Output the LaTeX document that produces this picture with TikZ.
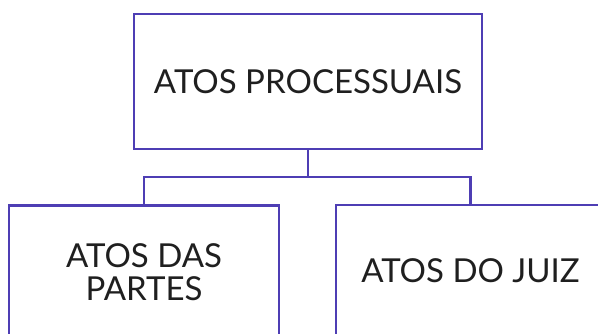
\documentclass[tikz,border=0pt]{standalone}
\usepackage{fontspec}
\setmainfont{Lato}
\begin{document}
\begin{tikzpicture}[x=1pt,y=-1pt,
  box/.style={draw=boxblue,line width=2.4pt,rectangle,inner sep=0pt,align=center,
    font=\fontsize{33}{33}\selectfont,text=black!88},
  link/.style={draw=boxblue,line width=2.4pt}]
\definecolor{boxblue}{RGB}{78,62,180}
\useasboundingbox (0,0) rectangle (598,334);
\node[box,minimum width=348pt,minimum height=135pt] (top) at (308,81.5) {ATOS PROCESSUAIS};
\node[box,minimum width=270pt,minimum height=133pt] (left) at (144,272) {ATOS DAS\\PARTES};
\node[box,minimum width=269pt,minimum height=131pt] (right) at (470.5,270.5) {ATOS DO JUIZ};
\coordinate (mid) at (308,177);
\draw[link] (top.south) -- (mid);
\draw[link] (mid) -| (left.north);
\draw[link] (mid) -| (right.north);
\end{tikzpicture}
\end{document}
